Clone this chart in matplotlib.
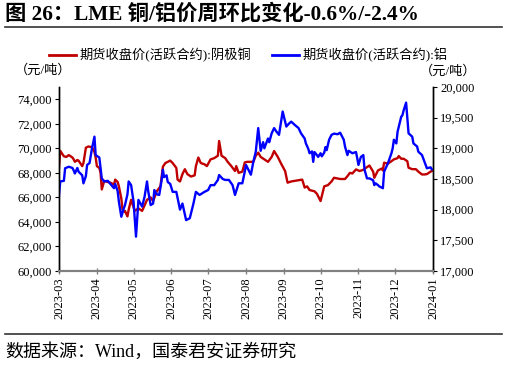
import matplotlib
matplotlib.use("Agg")
import matplotlib.pyplot as plt
import matplotlib.dates as mdates
from matplotlib.lines import Line2D
import pandas as pd

plt.rcParams['font.family'] = ['Liberation Serif', 'Noto Sans CJK SC']
plt.rcParams['axes.unicode_minus'] = False

# LME copper, active contract close (left axis)
cu_dates = [
    '2023-03-01', '2023-03-02', '2023-03-05', '2023-03-07', '2023-03-09', '2023-03-12',
    '2023-03-13', '2023-03-14', '2023-03-16', '2023-03-17', '2023-03-20', '2023-03-21',
    '2023-03-23', '2023-03-25', '2023-03-28', '2023-03-30', '2023-03-31', '2023-04-01',
    '2023-04-03', '2023-04-04', '2023-04-05', '2023-04-07', '2023-04-10', '2023-04-12',
    '2023-04-15', '2023-04-16', '2023-04-18', '2023-04-19', '2023-04-21', '2023-04-22',
    '2023-04-23', '2023-04-24', '2023-04-26', '2023-04-27', '2023-04-29', '2023-05-02',
    '2023-05-05', '2023-05-08', '2023-05-12', '2023-05-15', '2023-05-17', '2023-05-20',
    '2023-05-23', '2023-05-24', '2023-05-25', '2023-05-27', '2023-05-31', '2023-06-02',
    '2023-06-05', '2023-06-06', '2023-06-08', '2023-06-10', '2023-06-12', '2023-06-14',
    '2023-06-17', '2023-06-20', '2023-06-21', '2023-06-23', '2023-06-25', '2023-06-28',
    '2023-06-30', '2023-07-03', '2023-07-06', '2023-07-09', '2023-07-10', '2023-07-12',
    '2023-07-15', '2023-07-17', '2023-07-20', '2023-07-23', '2023-07-24', '2023-07-26',
    '2023-07-29', '2023-07-31', '2023-08-02', '2023-08-07', '2023-08-09', '2023-08-11',
    '2023-08-13', '2023-08-16', '2023-08-19', '2023-08-22', '2023-08-24', '2023-08-27',
    '2023-08-30', '2023-09-02', '2023-09-04', '2023-09-07', '2023-09-16', '2023-09-18',
    '2023-09-20', '2023-09-22', '2023-09-26', '2023-09-28', '2023-10-01', '2023-10-04',
    '2023-10-07', '2023-10-10', '2023-10-12', '2023-10-17', '2023-10-21', '2023-10-23',
    '2023-10-25', '2023-10-27', '2023-10-30', '2023-11-02', '2023-11-05', '2023-11-07',
    '2023-11-10', '2023-11-13', '2023-11-14', '2023-11-17', '2023-11-20', '2023-11-21',
    '2023-11-22', '2023-11-25', '2023-11-28', '2023-11-30', '2023-12-03', '2023-12-04',
    '2023-12-06', '2023-12-08', '2023-12-11', '2023-12-12', '2023-12-15', '2023-12-18',
    '2023-12-20', '2023-12-23', '2023-12-25', '2023-12-27', '2023-12-30', '2023-12-31',
]
cu_price = [
    68400, 69800, 69350, 69300, 69450, 69250,
    69100, 68900, 69050, 69000, 68550, 68800,
    70050, 70150, 70100, 69700, 69250, 68550,
    68400, 68000, 66650, 67350, 67250, 67200,
    67050, 67450, 67250, 66900, 65900, 65000,
    64850, 64900, 64450, 65000, 65800, 64900,
    65100, 64900, 65800, 66000, 65700, 66500,
    66900, 67700, 68500, 68800, 69000, 68800,
    68400, 67450, 67300, 67900, 68300, 67900,
    67700, 67800, 68550, 69250, 68800, 68700,
    68550, 69100, 69200, 69400, 70600, 69400,
    69200, 68900, 68550, 68150, 68550, 68000,
    68100, 68850, 68900, 68900, 69400, 69650,
    69300, 69100, 68900, 69300, 69780, 69300,
    68700, 68150, 67200, 67300, 67450, 66800,
    66900, 66600, 66500, 66300, 65700, 66900,
    67000, 67300, 67600, 67500, 67500, 67730,
    68000, 67950, 68280, 68150, 68250, 68400,
    68600, 68100, 67600, 68200, 68350, 68200,
    68830, 68750, 68950, 69100, 69200, 69370,
    69150, 69150, 68950, 68420, 68300, 68300,
    68100, 67870, 67870, 67900, 68100, 68150,
]

# LME aluminium, active contract close (right axis)
al_dates = [
    '2023-03-01', '2023-03-02', '2023-03-05', '2023-03-06', '2023-03-09', '2023-03-12',
    '2023-03-13', '2023-03-14', '2023-03-16', '2023-03-17', '2023-03-20', '2023-03-21',
    '2023-03-23', '2023-03-24', '2023-03-26', '2023-03-28', '2023-03-30', '2023-03-31',
    '2023-04-03', '2023-04-04', '2023-04-05', '2023-04-07', '2023-04-10', '2023-04-12',
    '2023-04-15', '2023-04-16', '2023-04-18', '2023-04-19', '2023-04-21', '2023-04-23',
    '2023-04-24', '2023-04-26', '2023-04-27', '2023-04-29', '2023-05-01', '2023-05-03',
    '2023-05-05', '2023-05-08', '2023-05-10', '2023-05-12', '2023-05-13', '2023-05-15',
    '2023-05-17', '2023-05-18', '2023-05-20', '2023-05-22', '2023-05-24', '2023-05-25',
    '2023-05-26', '2023-05-28', '2023-05-29', '2023-05-31', '2023-06-02', '2023-06-05',
    '2023-06-08', '2023-06-10', '2023-06-13', '2023-06-16', '2023-06-19', '2023-06-21',
    '2023-06-24', '2023-06-28', '2023-07-01', '2023-07-03', '2023-07-06', '2023-07-09',
    '2023-07-10', '2023-07-13', '2023-07-15', '2023-07-18', '2023-07-21', '2023-07-23',
    '2023-07-26', '2023-07-29', '2023-07-31', '2023-08-01', '2023-08-05', '2023-08-07',
    '2023-08-09', '2023-08-11', '2023-08-13', '2023-08-15', '2023-08-16', '2023-08-19',
    '2023-08-20', '2023-08-22', '2023-08-24', '2023-08-26', '2023-08-28', '2023-08-31',
    '2023-09-03', '2023-09-05', '2023-09-07', '2023-09-10', '2023-09-13', '2023-09-15',
    '2023-09-18', '2023-09-19', '2023-09-21', '2023-09-22', '2023-09-24', '2023-09-25',
    '2023-09-26', '2023-09-28', '2023-09-29', '2023-10-01', '2023-10-02', '2023-10-04',
    '2023-10-05', '2023-10-06', '2023-10-08', '2023-10-10', '2023-10-12', '2023-10-15',
    '2023-10-17', '2023-10-20', '2023-10-21', '2023-10-23', '2023-10-24', '2023-10-27',
    '2023-10-30', '2023-10-31', '2023-11-01', '2023-11-03', '2023-11-05', '2023-11-06',
    '2023-11-08', '2023-11-10', '2023-11-13', '2023-11-14', '2023-11-15', '2023-11-17',
    '2023-11-18', '2023-11-21', '2023-11-22', '2023-11-25', '2023-11-28', '2023-11-29',
    '2023-11-30', '2023-12-02', '2023-12-03', '2023-12-04', '2023-12-06', '2023-12-07',
    '2023-12-08', '2023-12-10', '2023-12-12', '2023-12-15', '2023-12-16', '2023-12-19',
    '2023-12-20', '2023-12-23', '2023-12-25', '2023-12-27', '2023-12-30', '2023-12-31',
]
al_price = [
    18240, 18460, 18470, 18675, 18700, 18680,
    18640, 18590, 18680, 18620, 18560, 18430,
    18550, 18730, 18760, 19000, 19190, 18890,
    18850, 18675, 18510, 18460, 18470, 18420,
    18350, 18420, 18300, 18130, 17885, 18020,
    18075, 18250, 18460, 18400, 18130, 17560,
    18160, 18050, 18210, 18460, 18300, 18075,
    18100, 18320, 18250, 18240, 18485, 18650,
    18530, 18560, 18450, 18420, 18290, 18290,
    18000, 18100, 17830, 17860, 18100, 18290,
    18240, 18290, 18320, 18400, 18400, 18485,
    18565, 18500, 18485, 18485, 18400, 18240,
    18430, 18430, 18620, 18730, 18570, 18780,
    18945, 19330, 18960, 19100, 19000, 19160,
    19100, 19245, 19330, 19270, 19220, 19600,
    19355, 19400, 19435, 19380, 19330, 19245,
    19160, 19080, 18990, 18920, 18950, 18780,
    18940, 18890, 18860, 18920, 18870, 18930,
    19020, 18970, 19140, 19220, 19240, 19230,
    19255, 19140, 19030, 18890, 18960, 18920,
    18940, 18840, 18730, 18860, 18890, 18650,
    18510, 18510, 18480, 18400, 18430, 18400,
    18380, 18350, 18620, 18750, 18920, 19000,
    19140, 19080, 19270, 19350, 19515, 19540,
    19620, 19745, 19245, 19190, 19080, 19030,
    18945, 18890, 18780, 18675, 18690, 18660,
]

cu_label = '期货收盘价(活跃合约):阴极铜'
al_label = '期货收盘价(活跃合约):铝'
month_ticks = pd.date_range('2023-03-01', '2024-01-01', freq='MS')
left_ticks = list(range(60000, 74001, 2000))
right_ticks = list(range(17000, 20001, 500))

fig = plt.figure(figsize=(5.07, 3.66), dpi=100)
ax = fig.add_axes([59 / 507, 1 - 271 / 366, (433 - 59) / 507, (271 - 87) / 366])
ax2 = ax.twinx()

ax.plot(pd.to_datetime(cu_dates), cu_price, color='#C00000', lw=1.7)
ax2.plot(pd.to_datetime(al_dates), al_price, color='#0000FF', lw=1.7)

ax.set_xlim(pd.Timestamp('2023-03-01'), pd.Timestamp('2024-01-01'))
ax.set_ylim(60000, 75000)
ax2.set_ylim(17000, 20000)
ax.set_yticks(left_ticks)
ax.set_yticklabels([f'{v:,}' for v in left_ticks])
ax2.set_yticks(right_ticks)
ax2.set_yticklabels([f'{v:,}' for v in right_ticks])
ax.set_xticks(month_ticks)
ax.xaxis.set_major_formatter(mdates.DateFormatter('%Y-%m'))

for a in (ax, ax2):
    a.spines['top'].set_visible(False)
    a.spines['bottom'].set_color('#808080')
    a.spines['bottom'].set_linewidth(1.5)
    a.spines['left'].set_linewidth(1.0)
    a.spines['right'].set_linewidth(1.0)
ax.tick_params(axis='x', direction='inout', length=5, width=1, color='#808080',
               labelsize=9, rotation=90, pad=2)
ax.tick_params(axis='y', direction='out', length=3, labelsize=9, pad=2)
ax2.tick_params(axis='y', direction='out', length=3, labelsize=9, pad=2)

handles = [Line2D([], [], color='#C00000', lw=2), Line2D([], [], color='#0000FF', lw=2)]
fig.legend(handles, [cu_label, al_label], loc='center', bbox_to_anchor=(0.49, 1 - 55 / 366),
           ncol=2, frameon=False, fontsize=9.5, handlelength=2.0, handletextpad=0.3,
           columnspacing=1.6)

fig.text(43 / 507, 1 - 70 / 366, '（元/吨）', fontsize=9.5, ha='center', va='center')
fig.text(448 / 507, 1 - 71 / 366, '（元/吨）', fontsize=9.5, ha='center', va='center')

fig.text(5 / 507, 1 - 14 / 366, '图 26：LME 铜/铝价周环比变化-0.6%/-2.4%',
         fontsize=15.3, fontweight='bold', ha='left', va='center')
fig.add_artist(Line2D([5 / 507, 502 / 507], [1 - 27 / 366] * 2, color='#333333', lw=1.2))
fig.add_artist(Line2D([5 / 507, 502 / 507], [1 - 334 / 366] * 2, color='#333333', lw=1.2))
fig.text(5 / 507, 1 - 352 / 366, '数据来源：Wind，国泰君安证券研究',
         fontsize=13, ha='left', va='center')

fig.savefig('out.png', dpi=100)
